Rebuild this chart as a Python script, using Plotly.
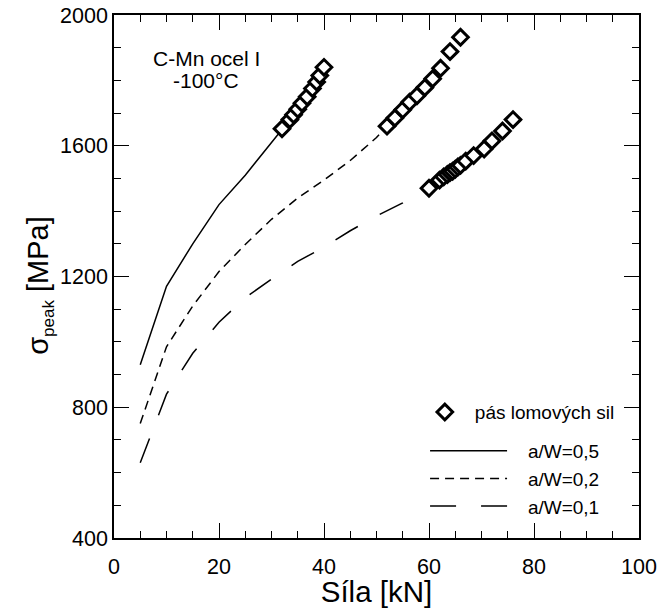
import plotly.graph_objects as go

# Calculated peak stress curves for three crack depths (force in kN, stress in MPa)
force_aw05 = [5, 10, 15, 20, 25, 30, 32]
sigma_aw05 = [930, 1170, 1300, 1420, 1510, 1610, 1650]

force_aw02 = [5, 10, 15, 20, 25, 30, 35, 40, 45, 50, 52]
sigma_aw02 = [750, 985, 1110, 1215, 1298, 1375, 1440, 1495, 1555, 1625, 1660]

force_aw01 = [5, 10, 15, 20, 25, 30, 35, 40, 45, 50, 55, 60]
sigma_aw01 = [630, 840, 965, 1060, 1135, 1192, 1246, 1290, 1340, 1385, 1425, 1470]

# Measured fracture forces mapped onto each curve
frac_force_aw05 = [32, 33.5, 34.2, 35, 35.8, 36.8, 37.8, 38.6, 39.2, 40]
frac_sigma_aw05 = [1652, 1680, 1695, 1712, 1730, 1750, 1775, 1795, 1815, 1840]

frac_force_aw02 = [52, 53.5, 55, 56.3, 57.7, 59.2, 60.7, 62.2, 64, 66]
frac_sigma_aw02 = [1660, 1685, 1710, 1733, 1753, 1778, 1805, 1837, 1888, 1932]

frac_force_aw01 = [60, 62, 62.8, 63.5, 64, 64.5, 65, 65.5, 66, 67, 68.5, 70.5, 72, 74, 76]
frac_sigma_aw01 = [1470, 1495, 1505, 1512, 1518, 1522, 1528, 1535, 1540, 1553, 1570, 1590, 1615, 1645, 1680]

FONT = "Liberation Sans, Arial, sans-serif"
GAP = "\u00a0\u00a0\u00a0"

fig = go.Figure()

line_style = dict(color="black", width=1.5)
fig.add_trace(go.Scatter(x=force_aw05, y=sigma_aw05, mode="lines", name=GAP + "a/W=0,5",
                         line=dict(**line_style, dash="solid"), legend="legend2"))
fig.add_trace(go.Scatter(x=force_aw02, y=sigma_aw02, mode="lines", name=GAP + "a/W=0,2",
                         line=dict(**line_style, dash="9px,6px"), legend="legend2"))
fig.add_trace(go.Scatter(x=force_aw01, y=sigma_aw01, mode="lines", name=GAP + "a/W=0,1",
                         line=dict(**line_style, dash="26px,25px"), legend="legend2"))

marker_style = dict(symbol="diamond", size=12, color="white",
                    line=dict(color="black", width=3))
for i, (fx, fy) in enumerate([(frac_force_aw05, frac_sigma_aw05),
                              (frac_force_aw02, frac_sigma_aw02),
                              (frac_force_aw01, frac_sigma_aw01)]):
    fig.add_trace(go.Scatter(x=fx, y=fy, mode="markers", name="pás lomových sil",
                             marker=marker_style, legendgroup="frac",
                             showlegend=(i == 0), legend="legend"))

axis_common = dict(
    showline=True, linecolor="black", linewidth=1.5, mirror="allticks",
    ticks="inside", ticklen=15, tickwidth=1.2, tickcolor="black",
    showgrid=False, zeroline=False, automargin=False,
    tickfont=dict(family=FONT, size=21.5, color="black"),
)

fig.update_xaxes(
    **axis_common, range=[0, 100], tick0=0, dtick=20, ticklabelstandoff=8,
    minor=dict(ticks="inside", ticklen=7, dtick=5, tickwidth=1.2, tickcolor="black"),
    title=dict(text="Síla [kN]", font=dict(family=FONT, size=29.5, color="black"), standoff=3),
)
fig.update_yaxes(
    **axis_common, range=[400, 2000], tick0=400, dtick=400,
    minor=dict(ticks="inside", ticklen=7, dtick=100, tickwidth=1.2, tickcolor="black"),
)

# vertical axis title
fig.add_annotation(x=-0.141, y=0.484, xref="paper", yref="paper", textangle=-90,
                   xanchor="center", yanchor="middle",
                   text="σ<sub><span style='font-size:17px'>peak</span></sub> [MPa]",
                   showarrow=False, font=dict(family=FONT, size=29, color="black"))

# material / temperature label
fig.add_annotation(x=17.7, y=1868, xref="x", yref="y", text="C-Mn ocel I",
                   showarrow=False, font=dict(family=FONT, size=21, color="black"))
fig.add_annotation(x=17.6, y=1801, xref="x", yref="y", text="-100°C",
                   showarrow=False, font=dict(family=FONT, size=21, color="black"))

fig.update_layout(
    width=659, height=608,
    margin=dict(l=114, r=20, t=15, b=70, autoexpand=False),
    plot_bgcolor="white", paper_bgcolor="white",
    font=dict(family=FONT, color="black"),
    legend=dict(x=0.573, y=0.277, xanchor="left", yanchor="top",
                bgcolor="rgba(0,0,0,0)", itemwidth=50,
                font=dict(family=FONT, size=19, color="black")),
    legend2=dict(x=0.5925, y=0.203, xanchor="left", yanchor="top",
                 bgcolor="rgba(0,0,0,0)", itemwidth=77,
                 font=dict(family=FONT, size=19, color="black")),
)

fig.write_html("out.html")
